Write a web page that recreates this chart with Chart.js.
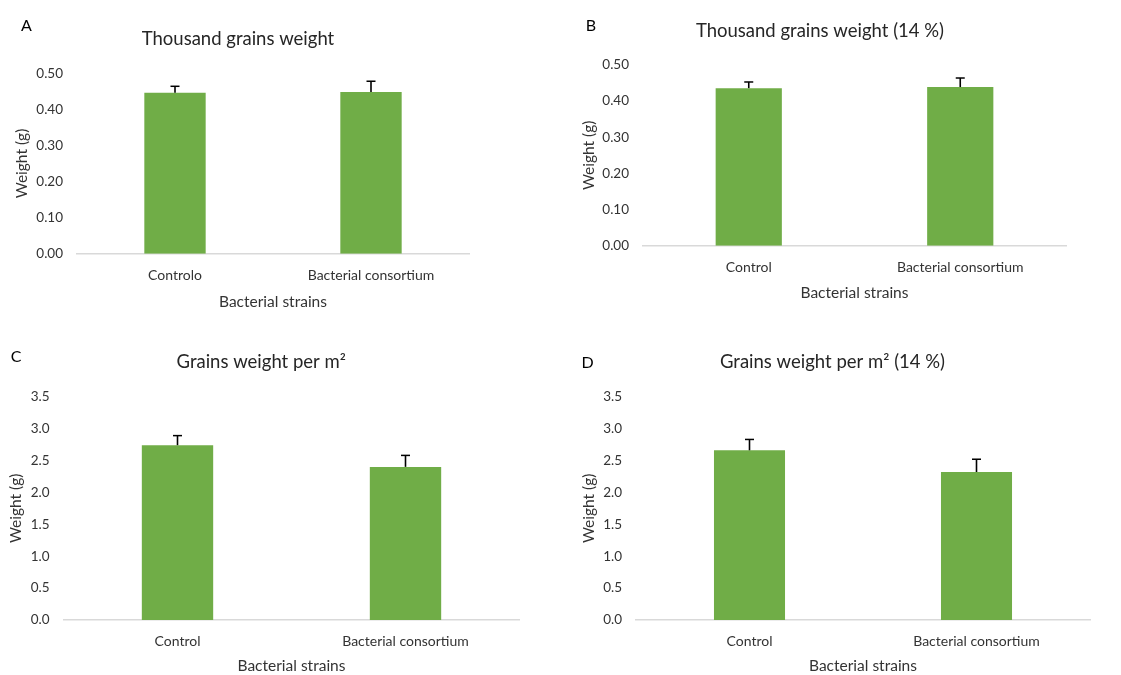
<!DOCTYPE html>
<html>
<head>
<meta charset="utf-8">
<title>Grain weight</title>
<script src="https://cdn.jsdelivr.net/npm/chart.js@4/dist/chart.umd.min.js"></script>
<style>
  body { margin: 0; background: #fff; }
  #page { position: relative; width: 1121px; height: 675px; overflow: hidden; }
  canvas { position: absolute; }
  .letter { position: absolute; font: 16px Lato, sans-serif; color: #000; transform: translate(-50%, -50%); }
</style>
</head>
<body>
<div id="page"></div>
<script>
// categories
const categoriesPt = ['Controlo', 'Bacterial consortium'];
const categoriesEn = ['Control', 'Bacterial consortium'];

// thousand grains weight (g)
const thousandWeight = [0.446, 0.448];
const thousandWeightErr = [0.018, 0.030];

// thousand grains weight at 14 % moisture (g)
const thousandWeight14 = [0.436, 0.439];
const thousandWeight14Err = [0.017, 0.025];

// grains weight per m2
const weightPerM2 = [2.74, 2.40];
const weightPerM2Err = [0.15, 0.18];

// grains weight per m2 at 14 % moisture
const weightPerM2_14 = [2.66, 2.32];
const weightPerM2_14Err = [0.17, 0.20];

// y axis ranges
const smallAxis = { max: 0.5, step: 0.1, decimals: 2 };
const largeAxis = { max: 3.5, step: 0.5, decimals: 1 };

const GREEN = '#70ad47';
const TEXT = '#333333';
const LH = 1.2;

Chart.defaults.font.family = 'Lato, sans-serif';

// draws the upper half of the error bars (stem + cap)
const errorBars = {
  id: 'errorBars',
  afterDatasetsDraw(chart) {
    const { ctx } = chart;
    const yScale = chart.scales.y;
    const ds = chart.data.datasets[0];
    const meta = chart.getDatasetMeta(0);
    ctx.save();
    ctx.strokeStyle = '#000';
    meta.data.forEach((bar, i) => {
      const top = yScale.getPixelForValue(ds.data[i] + ds.errors[i]);
      ctx.lineWidth = 1.6;
      ctx.beginPath();
      ctx.moveTo(bar.x, bar.y);
      ctx.lineTo(bar.x, top);
      ctx.stroke();
      ctx.lineWidth = 1.5;
      ctx.beginPath();
      ctx.moveTo(bar.x - 4.5, top);
      ctx.lineTo(bar.x + 4.5, top);
      ctx.stroke();
    });
    ctx.restore();
  }
};

const panels = [
  { letter: 'A', lx: 26.5, ly: 24, title: 'Thousand grains weight', labels: categoriesPt,
    values: thousandWeight, errors: thousandWeightErr, axis: smallAxis,
    x: 7, y: 0, w: 553, h: 330, titleY: 39, top: 73.3, bottom: 253.7, left: 77, right: 469,
    yTitleX: 22, xTitleY: 302 },
  { letter: 'B', lx: 591, ly: 24, title: 'Thousand grains weight (14 %)', labels: categoriesEn,
    values: thousandWeight14, errors: thousandWeight14Err, axis: smallAxis,
    x: 574, y: 0, w: 547, h: 330, titleY: 30.7, top: 65, bottom: 245.7, left: 643, right: 1066,
    yTitleX: 589, xTitleY: 293.3 },
  { letter: 'C', lx: 16, ly: 355, title: 'Grains weight per m²', labels: categoriesEn,
    values: weightPerM2, errors: weightPerM2Err, axis: largeAxis,
    x: 3, y: 330, w: 557, h: 345, titleY: 362, top: 396.7, bottom: 620, left: 63.5, right: 519.5,
    yTitleX: 16, xTitleY: 666.6 },
  { letter: 'D', lx: 587.5, ly: 361, title: 'Grains weight per m² (14 %)', labels: categoriesEn,
    values: weightPerM2_14, errors: weightPerM2_14Err, axis: largeAxis,
    x: 575, y: 330, w: 546, h: 345, titleY: 362, top: 396.7, bottom: 620, left: 636, right: 1090,
    yTitleX: 588.5, xTitleY: 666.6 }
];

const page = document.getElementById('page');

panels.forEach(p => {
  const canvas = document.createElement('canvas');
  canvas.width = p.w;
  canvas.height = p.h;
  canvas.style.left = p.x + 'px';
  canvas.style.top = p.y + 'px';
  page.appendChild(canvas);

  const letter = document.createElement('div');
  letter.className = 'letter';
  letter.textContent = p.letter;
  letter.style.left = p.lx + 'px';
  letter.style.top = p.ly + 'px';
  page.appendChild(letter);

  const titleSize = 18.5, tickSize = 13.5, catSize = 14, axisSize = 15.5;
  const titlePadTop = p.titleY - p.y - titleSize * LH / 2;
  const titlePadBottom = p.top - p.y - titlePadTop - titleSize * LH;
  const xAxisHeight = p.y + p.h - p.bottom;
  const yAxisWidth = p.left - p.x;

  new Chart(canvas, {
    type: 'bar',
    data: {
      labels: p.labels,
      datasets: [{
        data: p.values,
        errors: p.errors,
        backgroundColor: GREEN,
        barPercentage: 0.313,
        categoryPercentage: 1
      }]
    },
    options: {
      responsive: false,
      animation: false,
      layout: { padding: { left: 0, right: p.x + p.w - p.right, top: 0, bottom: 0 } },
      scales: {
        x: {
          grid: { display: false, drawTicks: false },
          border: { display: true, color: '#d9d9d9', width: 1.5 },
          ticks: { color: TEXT, font: { size: catSize }, padding: 21.5 - catSize * LH / 2, maxRotation: 0 },
          title: {
            display: true, text: 'Bacterial strains', color: TEXT,
            font: { size: axisSize },
            padding: { top: 0, bottom: Math.max(0, p.y + p.h - p.xTitleY - axisSize * LH / 2) }
          },
          afterFit: s => { s.height = xAxisHeight; }
        },
        y: {
          min: 0,
          max: p.axis.max,
          grid: { display: false, drawTicks: false },
          border: { display: false },
          ticks: {
            stepSize: p.axis.step,
            color: TEXT,
            font: { size: tickSize },
            padding: 14,
            callback: v => v.toFixed(p.axis.decimals)
          },
          title: {
            display: true, text: 'Weight (g)', color: TEXT,
            font: { size: axisSize },
            padding: { top: p.yTitleX - p.x - axisSize * LH / 2, bottom: 0 }
          },
          afterFit: s => { s.width = yAxisWidth; }
        }
      },
      plugins: {
        legend: { display: false },
        tooltip: { enabled: false },
        title: {
          display: true,
          text: p.title,
          color: '#262626',
          font: { size: titleSize, weight: 'normal' },
          padding: { top: titlePadTop, bottom: titlePadBottom }
        }
      }
    },
    plugins: [errorBars]
  });
});
</script>
</body>
</html>
